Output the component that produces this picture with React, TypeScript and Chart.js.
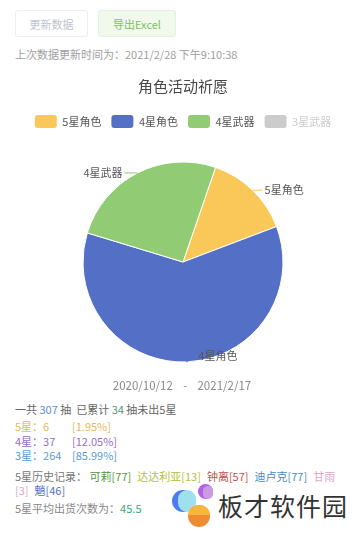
import React, { useEffect, useRef } from "react";
import { Chart, registerables } from "chart.js";

Chart.register(...registerables);

const categories = ["5星角色", "4星角色", "4星武器", "3星武器"];
const values = [6, 26, 11, 264];
const colors = ["#fac858", "#5470c6", "#91cc75", "#cccccc"];
const hiddenIndex = [3];
const chartTitle = "角色活动祈愿";

const updateTime = "2021/2/28 下午9:10:38";
const dateRange = ["2020/10/12", "2021/2/17"];
const totalPulls = 307;
const sinceLast = 34;
const starRows = [
  { label: "5星", count: 6, pct: "1.95%", color: "#e8b955" },
  { label: "4星", count: 37, pct: "12.05%", color: "#9a6cc8" },
  { label: "3星", count: 264, pct: "85.99%", color: "#5b9bd5" },
];
const history = [
  { name: "可莉", n: 77, color: "#4f9a3b" },
  { name: "达达利亚", n: 13, color: "#b3c23a" },
  { name: "钟离", n: 57, color: "#c0504d" },
  { name: "迪卢克", n: 77, color: "#4a8ac4" },
  { name: "甘雨", n: 3, color: "#e2a5cc" },
  { name: "魈", n: 46, color: "#5470c6" },
];
const avgPulls = "45.5";

const FONT = "'Noto Sans CJK SC', 'Noto Sans', sans-serif";

const outsideLabels = {
  id: "outsideLabels",
  afterDatasetsDraw(chart: any) {
    const ctx = chart.ctx;
    const meta = chart.getDatasetMeta(0);
    ctx.save();
    ctx.font = `11px ${FONT}`;
    ctx.textBaseline = "middle";
    meta.data.forEach((arc: any, i: number) => {
      if (!chart.getDataVisibility(i)) return;
      const { x, y, startAngle, endAngle, outerRadius } = arc.getProps(
        ["x", "y", "startAngle", "endAngle", "outerRadius"],
        true
      );
      if (endAngle - startAngle <= 0) return;
      const mid = (startAngle + endAngle) / 2;
      const ex = x + Math.cos(mid) * outerRadius;
      const ey = y + Math.sin(mid) * outerRadius;
      const right = Math.cos(mid) >= -0.2;
      const ly = Math.min(ey, y + outerRadius - 6);
      const lx = right ? ex + 10 : ex - 13;
      ctx.strokeStyle = colors[i];
      ctx.lineWidth = 1;
      ctx.beginPath();
      ctx.moveTo(ex, ey);
      ctx.lineTo(lx, ly);
      ctx.stroke();
      ctx.fillStyle = "#555";
      ctx.textAlign = right ? "left" : "right";
      ctx.fillText(categories[i], right ? lx + 2 : lx - 2, ly);
    });
    ctx.restore();
  },
};

function PieChart() {
  const ref = useRef<HTMLCanvasElement>(null);
  useEffect(() => {
    if (!ref.current) return;
    const chart = new Chart(ref.current, {
      type: "pie",
      data: {
        labels: categories,
        datasets: [
          {
            data: values,
            backgroundColor: colors,
            borderColor: "#ffffff",
            borderWidth: 1,
          },
        ],
      },
      options: {
        animation: false,
        responsive: false,
        devicePixelRatio: 1,
        rotation: 19,
        radius: 100,
        layout: { padding: { left: 9, right: 0, top: 0, bottom: 0 } },
        plugins: {
          title: {
            display: true,
            text: chartTitle,
            color: "#464646",
            font: { family: FONT, size: 15, weight: "normal" },
            padding: { top: 7, bottom: 10 },
          },
          legend: {
            display: true,
            position: "top",
            onClick: () => {},
            labels: {
              boxWidth: 22,
              boxHeight: 13,
              padding: 10,
              useBorderRadius: true,
              borderRadius: 3,
              font: { family: FONT, size: 11 },
              color: "#555",
              generateLabels: (c: any) =>
                categories.map((name, i) => ({
                  text: name,
                  fillStyle: colors[i],
                  strokeStyle: colors[i],
                  lineWidth: 0,
                  hidden: false,
                  fontColor: hiddenIndex.includes(i) ? "#cccccc" : "#555",
                  index: i,
                  borderRadius: 3,
                })),
            },
          },
          tooltip: { enabled: false },
        },
      },
      plugins: [outsideLabels],
    });
    hiddenIndex.forEach((i) => chart.toggleDataVisibility(i));
    chart.update();
    return () => chart.destroy();
  }, []);
  return <canvas ref={ref} width={357} height={316} style={{ display: "block" }} />;
}

const txt: React.CSSProperties = {
  position: "absolute",
  left: 15,
  fontFamily: FONT,
  fontSize: 11,
  lineHeight: "14px",
  whiteSpace: "nowrap",
};

export default function App() {
  const btn: React.CSSProperties = {
    position: "absolute",
    top: 10,
    height: 27,
    boxSizing: "border-box",
    borderRadius: 3,
    fontFamily: FONT,
    fontSize: 11,
    display: "flex",
    alignItems: "center",
    justifyContent: "center",
  };
  return (
    <div
      style={{
        position: "absolute",
        left: 0,
        top: 0,
        width: 357,
        height: 534,
        background: "#fff",
        overflow: "hidden",
        fontFamily: FONT,
      }}
    >
      <div style={{ position: "absolute", left: 0, top: 70 }}>
        <PieChart />
      </div>

      <div style={{ ...btn, left: 15, width: 73, border: "1px solid #ebeef5", color: "#c0c4cc", background: "#fff" }}>
        更新数据
      </div>
      <div style={{ ...btn, left: 98, width: 78, border: "1px solid #e1f3d8", color: "#7ec05a", background: "#f0f9eb" }}>
        导出Excel
      </div>
      <div style={{ ...txt, top: 47, color: "#a0a0a0" }}>上次数据更新时间为：{updateTime}</div>

      <div style={{ ...txt, left: 0, width: 364, textAlign: "center", top: 378, color: "#8a8a8a", fontSize: 11.5 }}>
        {dateRange[0]}&nbsp;&nbsp;&nbsp;&nbsp;-&nbsp;&nbsp;&nbsp;&nbsp;{dateRange[1]}
      </div>

      <div style={{ ...txt, top: 402, color: "#666" }}>
        一共 <span style={{ color: "#5b8fd0" }}>{totalPulls}</span> 抽&nbsp;&nbsp;已累计{" "}
        <span style={{ color: "#3aa57a" }}>{sinceLast}</span> 抽未出5星
      </div>
      {starRows.map((r, i) => (
        <div key={r.label} style={{ ...txt, top: 419 + i * 14.5, color: r.color }}>
          <span style={{ display: "inline-block", width: 57 }}>
            {r.label}：{r.count}
          </span>
          [{r.pct}]
        </div>
      ))}
      <div style={{ ...txt, top: 469, width: 330, whiteSpace: "normal", color: "#777" }}>
        5星历史记录：&nbsp;
        {history.map((h) => (
          <span key={h.name} style={{ color: h.color, marginRight: 6 }}>
            {h.name}[{h.n}]
          </span>
        ))}
      </div>
      <div style={{ ...txt, top: 501, color: "#888" }}>
        5星平均出货次数为：<span style={{ color: "#3aa57a" }}>{avgPulls}</span>
      </div>

      <div style={{ position: "absolute", left: 170, top: 482, width: 50, height: 52 }}>
        <div style={{ position: "absolute", left: 2, top: 8, width: 22, height: 22, borderRadius: 11, background: "#4d7cf0" }} />
        <div style={{ position: "absolute", left: 8, top: 8, width: 18, height: 22, borderRadius: 11, background: "#9fe0ee" }} />
        <div style={{ position: "absolute", left: 28, top: 2, width: 15, height: 15, borderRadius: 8, background: "#b061e6" }} />
        <div style={{ position: "absolute", left: 33, top: 4, width: 10, height: 13, borderRadius: 7, background: "#c99be2" }} />
        <div style={{ position: "absolute", left: 18, top: 23, width: 22, height: 22, borderRadius: 11, background: "#ef8a35" }} />
        <div style={{ position: "absolute", left: 18, top: 23, width: 22, height: 10, borderRadius: "11px 11px 0 0", background: "#f8b53c" }} />
      </div>
      <div style={{ position: "absolute", left: 218, top: 490, fontFamily: FONT, fontSize: 25, lineHeight: "30px", color: "#333", letterSpacing: 1 }}>
        板才软件园
      </div>
    </div>
  );
}
